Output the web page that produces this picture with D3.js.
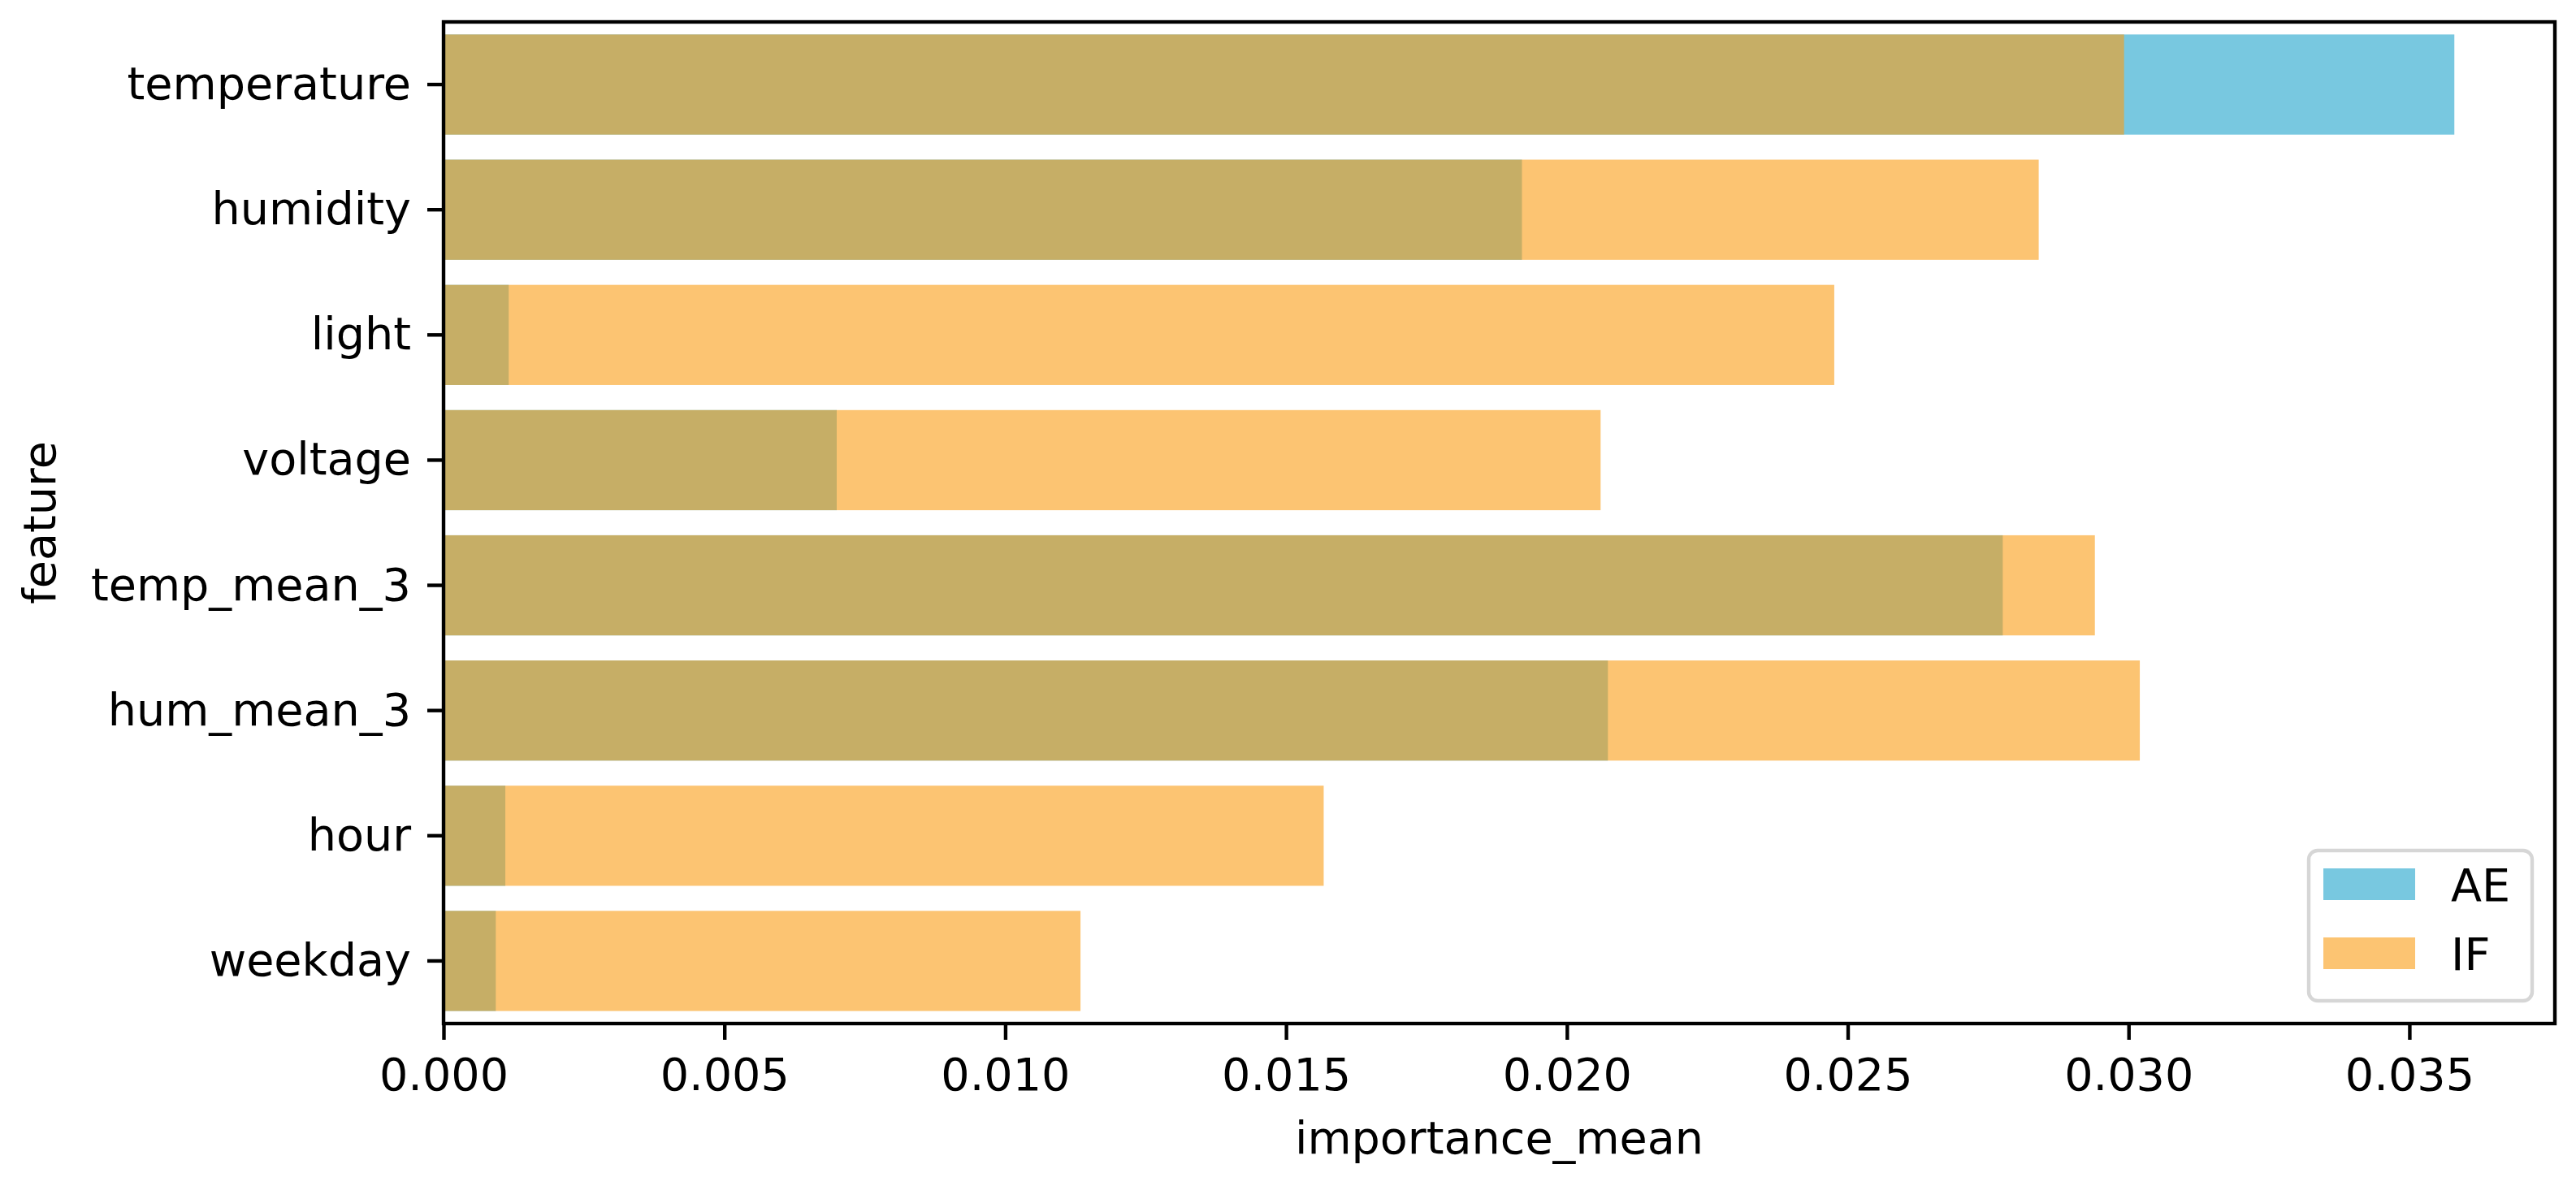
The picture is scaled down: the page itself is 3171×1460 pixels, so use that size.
<!DOCTYPE html>
<html>
<head>
<meta charset="utf-8">
<script src="https://cdn.jsdelivr.net/npm/d3@7"></script>
<style>
  html, body { margin: 0; padding: 0; background: #fff; }
  svg { display: block; }
  text { font-family: "DejaVu Sans", sans-serif; fill: #000; }
</style>
</head>
<body>
<svg id="chart" width="3171" height="1460"></svg>
<script>
const features = ["temperature", "humidity", "light", "voltage", "temp_mean_3", "hum_mean_3", "hour", "weekday"];
const aeValues = [0.0358, 0.0192, 0.00116, 0.0070, 0.02776, 0.02073, 0.00110, 0.00093];
const ifValues = [0.02992, 0.0284, 0.02476, 0.0206, 0.0294, 0.0302, 0.01567, 0.01134];
const xTicks = [0, 0.005, 0.010, 0.015, 0.020, 0.025, 0.030, 0.035];
const seriesNames = ["AE", "IF"];
const seriesColors = ["rgb(30,163,203)", "rgb(250,157,20)"];

(function () {
const pLeft = 546, pRight = 3145, pTop = 27, pBottom = 1260;
const FS = 55.6;
const svg = d3.select("#chart");

const allMax = d3.max([...aeValues, ...ifValues]);
const x = d3.scaleLinear().domain([0, allMax * 1.05]).range([pLeft, pRight]);
const y = d3.scaleBand().domain(features).range([pTop, pBottom]).paddingInner(0.2).paddingOuter(0.1);

// bars
const series = [aeValues, ifValues];
series.forEach((vals, si) => {
  svg.append("g").selectAll("rect").data(features).join("rect")
    .attr("x", x(0))
    .attr("y", d => y(d))
    .attr("width", (d, i) => x(vals[i]) - x(0))
    .attr("height", y.bandwidth())
    .attr("fill", seriesColors[si])
    .attr("fill-opacity", 0.6);
});

// x axis
const xAxis = d3.axisBottom(x).tickValues(xTicks).tickFormat(d3.format(".3f")).tickSize(20).tickPadding(19);
const gx = svg.append("g").attr("transform", `translate(0,${pBottom})`).call(xAxis);
gx.select(".domain").remove();
gx.selectAll(".tick line").attr("stroke", "#000").attr("stroke-width", 4.4);
gx.selectAll(".tick text").attr("font-size", FS).attr("font-family", "DejaVu Sans").attr("fill", "#000")
  .attr("y", 1300 - pBottom).attr("dy", "0.76em");

// y axis
const yAxis = d3.axisLeft(y).tickSize(20).tickPadding(20);
const gy = svg.append("g").attr("transform", `translate(${pLeft},0)`).call(yAxis);
gy.select(".domain").remove();
gy.selectAll(".tick line").attr("stroke", "#000").attr("stroke-width", 4.4);
gy.selectAll(".tick text").attr("font-size", FS).attr("font-family", "DejaVu Sans").attr("fill", "#000")
  .attr("dy", null).attr("y", 18);

// frame (spines)
svg.append("rect").attr("x", pLeft).attr("y", pTop).attr("width", pRight - pLeft).attr("height", pBottom - pTop)
  .attr("fill", "none").attr("stroke", "#000").attr("stroke-width", 4.4);

// axis labels
svg.append("text").attr("x", (pLeft + pRight) / 2).attr("y", 1420).attr("text-anchor", "middle")
  .attr("font-size", FS).text("importance_mean");
svg.append("text").attr("transform", `translate(68,${(pTop + pBottom) / 2}) rotate(-90)`)
  .attr("text-anchor", "middle").attr("font-size", FS).text("feature");

// legend
const lg = svg.append("g");
lg.append("rect").attr("x", 2842).attr("y", 1047).attr("width", 3117 - 2842).attr("height", 1232 - 1047)
  .attr("rx", 11).attr("ry", 11)
  .attr("fill", "#fff").attr("fill-opacity", 0.8)
  .attr("stroke", "#d6d6d6").attr("stroke-width", 4.4);
const legendRows = [1069, 1154];
seriesNames.forEach((name, i) => {
  lg.append("rect").attr("x", 2860).attr("y", legendRows[i]).attr("width", 113).attr("height", 39)
    .attr("fill", seriesColors[i]).attr("fill-opacity", 0.6);
  lg.append("text").attr("x", 3017).attr("y", legendRows[i] + 40).attr("font-size", FS).text(name);
});
})();
</script>
</body>
</html>
